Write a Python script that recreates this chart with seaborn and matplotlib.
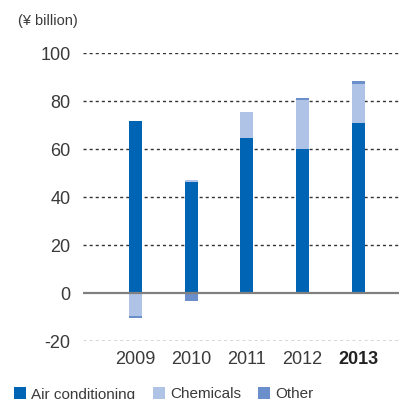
import numpy as np
import pandas as pd
import matplotlib
matplotlib.use("Agg")
import matplotlib.pyplot as plt
from matplotlib.patches import Rectangle
import seaborn as sns

years = ["2009", "2010", "2011", "2012", "2013"]
air_conditioning = [71.8, 46.3, 64.7, 60.2, 71.0]
chemicals = [-9.6, 0.7, 10.8, 20.3, 16.2]
other = [-0.7, -3.2, 0.0, 0.9, 1.3]

series_names = ["Air conditioning", "Chemicals", "Other"]
series_values = [air_conditioning, chemicals, other]
series_colors = ["#0064b4", "#afc3e6", "#6a8fcb"]

sns.set_theme(style="white")
plt.rcParams["font.family"] = ["Liberation Sans", "DejaVu Sans"]
plt.rcParams["axes.unicode_minus"] = False
text_color = "#3a3a3a"

W = H = 399
fig = plt.figure(figsize=(W / 100, H / 100), dpi=100)
ax = fig.add_axes([83 / W, (H - 341) / H, 316 / W, 288 / H])

# stack positive values upward and negative values downward
pos_base = np.zeros(len(years))
neg_base = np.zeros(len(years))
for name, vals, col in zip(series_names, series_values, series_colors):
    vals = np.asarray(vals, dtype=float)
    bottoms = np.where(vals >= 0, pos_base, neg_base)
    df = pd.DataFrame({"year": years, "value": vals})
    sns.barplot(data=df, x="year", y="value", order=years, color=col,
                saturation=1, width=0.235, errorbar=None, bottom=bottoms,
                linewidth=0, ax=ax, zorder=3)
    pos_base = pos_base + np.clip(vals, 0, None)
    neg_base = neg_base + np.clip(vals, None, 0)

ax.set_xlim(-0.94, 4.73)
ax.set_ylim(-20, 100)
ax.set_yticks([-20, 0, 20, 40, 60, 80, 100])
ax.set_xlabel("")
ax.set_ylabel("")

for v in [-20, 20, 40, 60, 80, 100]:
    ax.axhline(v, color="#333333", lw=1.0, ls=(0, (2.2, 2.2)), zorder=1)
ax.axhline(0, color="#808080", lw=1.6, zorder=4)

for s in ax.spines.values():
    s.set_visible(False)
ax.tick_params(axis="y", length=0, pad=9, labelsize=13, labelcolor=text_color)
ax.tick_params(axis="x", length=0, pad=7, labelsize=13, labelcolor=text_color)
for lbl in ax.get_xticklabels():
    if lbl.get_text() == "2013":
        lbl.set_fontweight("bold")
        lbl.set_color("#222222")

fig.text(48 / W, 1 - 21 / H, "(¥ billion)", ha="center", va="center",
         fontsize=10.5, color=text_color)

# legend row along the bottom edge: colour key followed by its label
key_left = [14, 153, 258]
for x0, name, col in zip(key_left, series_names, series_colors):
    fig.patches.append(Rectangle((x0 / W, 0), 12 / W, 12 / H, facecolor=col,
                                 edgecolor="none", transform=fig.transFigure))
    fig.text((x0 + 17) / W, 1 - 398.5 / H, name, ha="left", va="baseline",
             fontsize=11, color=text_color)

fig.savefig("out.png", dpi=100)
